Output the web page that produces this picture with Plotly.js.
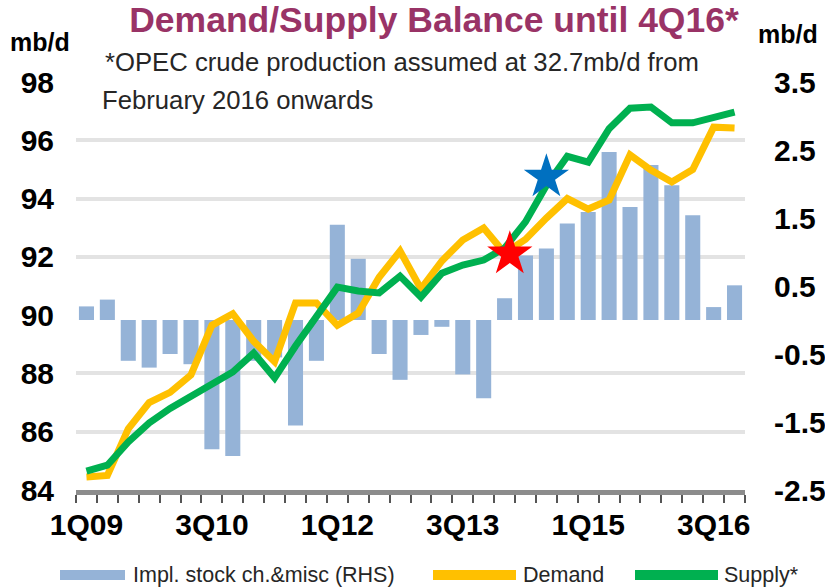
<!DOCTYPE html>
<html>
<head>
<meta charset="utf-8">
<script src="https://cdn.plot.ly/plotly-3.0.1.min.js"></script>
<style>html,body{margin:0;padding:0;background:#fff;}#chart{width:825px;height:587px;}</style>
</head>
<body>
<div id="chart"></div>
<script>
// ---- data ----
const quarters = ['1Q09','2Q09','3Q09','4Q09','1Q10','2Q10','3Q10','4Q10',
                  '1Q11','2Q11','3Q11','4Q11','1Q12','2Q12','3Q12','4Q12',
                  '1Q13','2Q13','3Q13','4Q13','1Q14','2Q14','3Q14','4Q14',
                  '1Q15','2Q15','3Q15','4Q15','1Q16','2Q16','3Q16','4Q16'];
const shownTicks = ['1Q09','3Q10','1Q12','3Q13','1Q15','3Q16'];
const stockChange = [0.2, 0.3, -0.6, -0.7, -0.5, -0.65, -1.9, -2.0,
                     -0.6, -0.55, -1.55, -0.6, 1.4, 0.9, -0.5, -0.88,
                     -0.22, -0.1, -0.8, -1.15, 0.32, 0.95, 1.05, 1.42,
                     1.59, 2.47, 1.66, 2.28, 1.98, 1.54, 0.19, 0.51];
const demand = [84.45, 84.5, 86.1, 87.0, 87.35, 87.95, 89.65, 90.05,
                89.1, 88.4, 90.42, 90.42, 89.65, 90.07, 91.3, 92.2,
                90.9, 91.86, 92.58, 92.99, 92.13, 92.6, 93.33, 94.0,
                93.64, 93.95, 95.5, 94.98, 94.57, 95.0, 96.45, 96.42];
const supply = [84.65, 84.85, 85.65, 86.3, 86.8, 87.2, 87.6, 88.05,
                88.7, 87.85, 88.94, 89.97, 90.96, 90.83, 90.76, 91.34,
                90.62, 91.44, 91.72, 91.89, 92.3, 93.2, 94.45, 95.45,
                95.25, 96.4, 97.1, 97.14, 96.6, 96.6, 96.8, 96.97];
const redStar = {x: 20.25, y: 92.1};
const blueStar = {x: 22, y: 94.74};
const leftTicks = [84, 86, 88, 90, 92, 94, 96, 98];
const gridTicks = [86, 88, 92, 94, 96, 98];
const rightTicks = [-2.5, -1.5, -0.5, 0.5, 1.5, 2.5, 3.5];
const rightTickText = ['-2.5', '-1.5', '-0.5', '0.5', '1.5', '2.5', '3.5'];
const legendLabels = ['Impl. stock ch.&misc (RHS)', 'Demand', 'Supply*'];

// ---- build ----
const idx = quarters.map((q, i) => i);
const tickIdx = shownTicks.map(t => quarters.indexOf(t));
const FONT = 'Arial, "Liberation Sans", sans-serif';
const W = 825, H = 587, L = 76, R = 80, T = 82, B = 97;
const pw = W - L - R, ph = H - T - B;
const px = x => (x - L) / pw;        // pixel -> paper x
const py = y => (H - B - y) / ph;    // pixel -> paper y

const traces = [
  {type: 'bar', x: idx, y: stockChange, yaxis: 'y', name: legendLabels[0],
   marker: {color: '#95B3D7'}, width: 0.72, hoverinfo: 'x+y'},
  {type: 'scatter', mode: 'lines', x: idx, y: demand, yaxis: 'y2', name: legendLabels[1],
   line: {color: '#FFC000', width: 7}},
  {type: 'scatter', mode: 'lines', x: idx, y: supply, yaxis: 'y2', name: legendLabels[2],
   line: {color: '#00B050', width: 7}},
  {type: 'scatter', mode: 'markers', x: [redStar.x], y: [redStar.y], yaxis: 'y2',
   marker: {symbol: 'star', size: 34, color: '#FF0000', line: {width: 0}}, showlegend: false},
  {type: 'scatter', mode: 'markers', x: [blueStar.x], y: [blueStar.y], yaxis: 'y2',
   marker: {symbol: 'star', size: 34, color: '#0070C0', line: {width: 0}}, showlegend: false},
  // invisible helper so the grid axis is instantiated
  {type: 'scatter', mode: 'none', x: [idx[0]], y: [leftTicks[0]], yaxis: 'y3',
   showlegend: false, hoverinfo: 'skip'}
];

const tickFont = {family: FONT, size: 30, color: '#000', weight: 'bold'};

const shapes = [
  {type: 'rect', xref: 'paper', yref: 'paper', x0: px(60), x1: px(125), y0: py(580), y1: py(570),
   fillcolor: '#95B3D7', line: {width: 0}},
  {type: 'rect', xref: 'paper', yref: 'paper', x0: px(433), x1: px(516), y0: py(580), y1: py(570),
   fillcolor: '#FFC000', line: {width: 0}},
  {type: 'rect', xref: 'paper', yref: 'paper', x0: px(635), x1: px(718), y0: py(580), y1: py(570),
   fillcolor: '#00B050', line: {width: 0}}
];

function ann(text, x, y, xanchor, size, extra) {
  return Object.assign({text: text, xref: 'paper', yref: 'paper', x: px(x), y: py(y),
    xanchor: xanchor, yanchor: 'middle', showarrow: false,
    font: {family: FONT, size: size, color: '#262626'}}, extra || {});
}

const annotations = [
  ann('mb/d', 40, 42, 'center', 25, {font: {family: FONT, size: 25, color: '#000', weight: 'bold'}}),
  ann('mb/d', 788, 34, 'center', 25, {font: {family: FONT, size: 25, color: '#000', weight: 'bold'}}),
  ann('*OPEC crude production assumed at 32.7mb/d from', 103, 62, 'left', 25.7),
  ann('February 2016 onwards', 100, 100, 'left', 25.7),
  ann(legendLabels[0], 131, 575, 'left', 21.5),
  ann(legendLabels[1], 521, 575, 'left', 21.5),
  ann(legendLabels[2], 722, 575, 'left', 21.5)
];

const layout = {
  width: W, height: H,
  margin: {l: L, r: R, t: T, b: B, pad: 0},
  paper_bgcolor: '#fff', plot_bgcolor: '#fff',
  showlegend: false,
  title: {text: 'Demand/Supply Balance until 4Q16*', x: 434 / W, xanchor: 'center',
          y: 1 - 20 / H, yanchor: 'middle',
          font: {family: FONT, size: 35.5, color: '#993366', weight: 'bold'}},
  xaxis: {
    range: [-0.5, quarters.length - 0.5], tickvals: tickIdx, ticktext: shownTicks,
    ticks: '', showgrid: false, zeroline: false,
    showline: true, linecolor: '#8C8C8C', linewidth: 5,
    tickfont: tickFont, ticklabelstandoff: 4,
    minor: {tick0: -0.5, dtick: 1, ticks: 'outside', ticklen: 8, tickwidth: 2,
            tickcolor: '#555', showgrid: false}
  },
  yaxis: {
    range: [-2.5, 3.5], side: 'right', tickvals: rightTicks, ticktext: rightTickText,
    showgrid: false, zeroline: false, showline: false, ticks: '',
    tickfont: tickFont, ticklabelstandoff: 28
  },
  yaxis2: {
    range: [84, 98], overlaying: 'y', side: 'left', tickvals: leftTicks,
    showgrid: false, zeroline: false, showline: false, ticks: '',
    tickfont: tickFont, ticklabelstandoff: 21
  },
  yaxis3: {
    range: [84, 98], overlaying: 'y', side: 'left', tickvals: gridTicks,
    showticklabels: false, showgrid: true, gridcolor: '#E3E3E3', gridwidth: 4,
    zeroline: false, showline: false, ticks: ''
  },
  shapes: shapes,
  annotations: annotations
};

Plotly.newPlot('chart', traces, layout, {displayModeBar: false, staticPlot: true});
</script>
</body>
</html>
